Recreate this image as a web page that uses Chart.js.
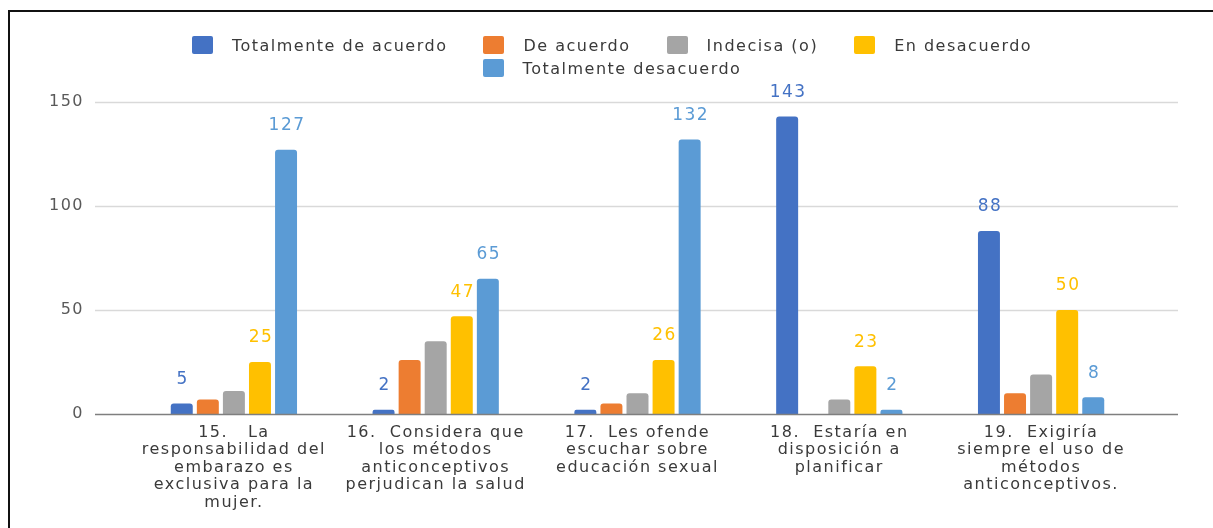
<!DOCTYPE html>
<html>
<head>
<meta charset="utf-8">
<script src="https://cdn.jsdelivr.net/npm/chart.js@4.4.1/dist/chart.umd.min.js"></script>
<style>
  html, body { margin: 0; padding: 0; background: #fff; overflow: hidden; }
  #wrap { position: relative; width: 1213px; height: 528px; overflow: hidden; }
  #ftop { position: absolute; left: 8px; top: 10px; width: 1230px; height: 2px; background: #111; }
  #fleft { position: absolute; left: 8px; top: 10px; width: 2px; height: 530px; background: #111; }
  #legend { position: absolute; left: 162px; top: 36px; width: 900px;
            display: flex; flex-wrap: wrap; justify-content: center; column-gap: 36px; row-gap: 5px;
            font-family: "DejaVu Sans", sans-serif; font-size: 16px; letter-spacing: 1.5px; color: #3a3a3a; }
  .item { display: flex; align-items: center; height: 18px; white-space: nowrap; }
  .box { width: 21px; height: 18px; border-radius: 2px; margin-right: 19px; }
  canvas { position: absolute; left: 0; top: 0; }
</style>
</head>
<body>
<div id="wrap">
  <canvas id="c" width="1213" height="528"></canvas>
  <div id="ftop"></div>
  <div id="fleft"></div>
  <div id="legend"></div>
</div>
<script>
// ---- data ----
const categories = [
  ["15.   La", "responsabilidad del", "embarazo es", "exclusiva para la", "mujer."],
  ["16.  Considera que", "los métodos", "anticonceptivos", "perjudican la salud"],
  ["17.  Les ofende", "escuchar sobre", "educación sexual"],
  ["18.  Estaría en", "disposición a", "planificar"],
  ["19.  Exigiría", "siempre el uso de", "métodos", "anticonceptivos."]
];
const seriesNames = ["Totalmente de acuerdo", "De acuerdo", "Indecisa (o)", "En desacuerdo", "Totalmente desacuerdo"];
const totalmenteDeAcuerdo = [5, 2, 2, 143, 88];
const deAcuerdo = [7, 26, 5, 0, 10];
const indecisa = [11, 35, 10, 7, 19];
const enDesacuerdo = [25, 47, 26, 23, 50];
const totalmenteDesacuerdo = [127, 65, 132, 2, 8];
const labeledSeries = [0, 3, 4];
const yTicks = [0, 50, 100, 150];

// ---- styles ----
const colors = ["#4472C4", "#ED7D31", "#A5A5A5", "#FFC000", "#5B9BD5"];
const seriesValues = [totalmenteDeAcuerdo, deAcuerdo, indecisa, enDesacuerdo, totalmenteDesacuerdo];
const FONT = "'DejaVu Sans', sans-serif";

// HTML legend
const lg = document.getElementById('legend');
seriesNames.forEach((n, i) => {
  const it = document.createElement('div'); it.className = 'item';
  const b = document.createElement('div'); b.className = 'box'; b.style.background = colors[i];
  const t = document.createElement('span'); t.textContent = n;
  it.appendChild(b); it.appendChild(t); lg.appendChild(it);
});

const spacingPlugin = {
  id: 'spacing',
  beforeLayout(chart) { chart.ctx.letterSpacing = '1.5px'; },
  beforeDraw(chart) { chart.ctx.letterSpacing = '1.5px'; }
};

const gridPlugin = {
  id: 'customGrid',
  beforeDatasetsDraw(chart) {
    const ctx = chart.ctx, y = chart.scales.y;
    ctx.save();
    ctx.strokeStyle = '#d9d9d9'; ctx.lineWidth = 1.5;
    yTicks.forEach(v => {
      if (v === 0) return;
      const py = Math.round(y.getPixelForValue(v)) + 0.5;
      ctx.beginPath(); ctx.moveTo(95, py); ctx.lineTo(1178, py); ctx.stroke();
    });
    ctx.restore();
  },
  afterDatasetsDraw(chart) {
    const ctx = chart.ctx, y = chart.scales.y;
    ctx.save();
    const py = Math.round(y.getPixelForValue(0)) + 0.5;
    ctx.strokeStyle = '#7f7f7f'; ctx.lineWidth = 1.5;
    ctx.beginPath(); ctx.moveTo(95, py); ctx.lineTo(1178, py); ctx.stroke();
    // data labels
    ctx.font = '17px ' + FONT;
    ctx.textAlign = 'center'; ctx.textBaseline = 'middle';
    ctx.letterSpacing = '1.5px';
    labeledSeries.forEach(di => {
      const meta = chart.getDatasetMeta(di);
      ctx.fillStyle = colors[di];
      meta.data.forEach((bar, i) => {
        const v = chart.data.datasets[di].data[i];
        ctx.fillText(String(v), bar.x + 1, bar.y - 24);
      });
    });
    ctx.restore();
  }
};

new Chart(document.getElementById('c'), {
  type: 'bar',
  data: {
    labels: categories,
    datasets: seriesNames.map((n, i) => ({
      label: n,
      data: seriesValues[i],
      backgroundColor: colors[i],
      borderRadius: { topLeft: 3, topRight: 3 },
      borderSkipped: 'bottom',
      categoryPercentage: 0.646,
      barPercentage: 0.843
    }))
  },
  options: {
    responsive: false,
    devicePixelRatio: 1,
    animation: false,
    layout: { padding: { left: 0, right: 71, top: 102, bottom: 0 } },
    plugins: { legend: { display: false }, tooltip: { enabled: false } },
    scales: {
      x: {
        grid: { display: false, drawTicks: false },
        border: { display: false },
        afterFit(s) { s.height = 114; },
        ticks: {
          autoSkip: false, maxRotation: 0, minRotation: 0, padding: 10,
          color: '#3a3a3a',
          font: { family: FONT, size: 16, lineHeight: 1.09 }
        }
      },
      y: {
        min: 0, max: 150,
        afterFit(s) { s.width = 133; },
        afterBuildTicks(s) { s.ticks = yTicks.map(v => ({ value: v })); },
        grid: { display: false, drawTicks: false },
        border: { display: false },
        ticks: {
          padding: 49,
          color: '#595959',
          font: { family: FONT, size: 16 }
        }
      }
    }
  },
  plugins: [spacingPlugin, gridPlugin]
});
</script>
</body>
</html>
